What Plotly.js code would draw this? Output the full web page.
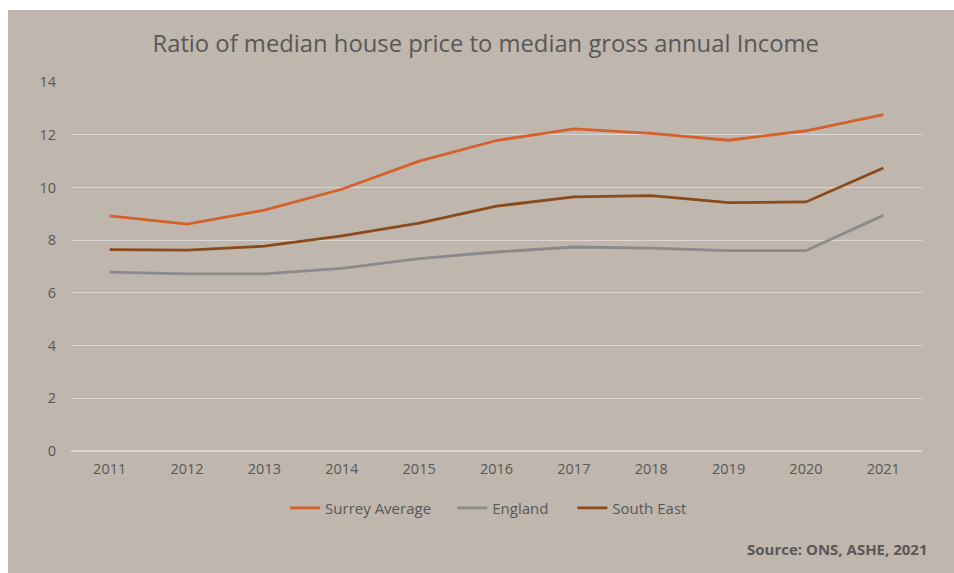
<!DOCTYPE html>
<html>
<head>
<meta charset="utf-8">
<script src="https://cdn.plot.ly/plotly-3.0.1.min.js"></script>
<style>
html,body{margin:0;padding:0;background:#ffffff;}
#chart{position:absolute;left:8px;top:10px;width:946px;height:563px;}
</style>
</head>
<body>
<div id="chart"></div>
<script>
const years = ['2011','2012','2013','2014','2015','2016','2017','2018','2019','2020','2021'];
const surreyAverage = [8.92, 8.61, 9.14, 9.93, 11.0, 11.78, 12.22, 12.05, 11.79, 12.15, 12.76];
const england = [6.79, 6.72, 6.72, 6.93, 7.30, 7.55, 7.74, 7.70, 7.60, 7.60, 8.94];
const southEast = [7.64, 7.62, 7.77, 8.16, 8.65, 9.29, 9.64, 9.69, 9.42, 9.45, 10.74];
const seriesNames = ['Surrey Average', 'England', 'South East'];
const yTicks = [0, 2, 4, 6, 8, 10, 12, 14];

const colors = ['#D4612B', '#8C8A88', '#8A4A1C'];
const legendIds = ['legend', 'legend2', 'legend3'];
const legendX = [0.2516, 0.4480, 0.5891];
const allSeries = [surreyAverage, england, southEast];
const traces = allSeries.map((vals, i) => ({
  x: years, y: vals, name: seriesNames[i], type: 'scatter', mode: 'lines',
  legend: legendIds[i],
  line: {color: colors[i], width: 2.8}
}));

const textColor = '#5A5856';
const layout = {
  width: 946, height: 563,
  paper_bgcolor: '#BFB6AD', plot_bgcolor: '#BFB6AD',
  font: {family: '"Open Sans", sans-serif', color: textColor, size: 14.5},
  margin: {l: 63, r: 32, t: 72, b: 122},
  title: {text: 'Ratio of median house price to median gross annual Income',
          font: {size: 23.8, color: textColor}, x: 0.505, xanchor: 'center', y: 0.94, yanchor: 'middle'},
  xaxis: {type: 'category', range: [-0.5, 10.5], showgrid: false, zeroline: false,
          showline: false, ticks: '', ticklabelstandoff: 7, tickfont: {size: 14.5, color: textColor}},
  yaxis: {range: [0, 14], tickvals: yTicks, showgrid: true, gridcolor: '#DCD7D2', gridwidth: 1.2,
          zeroline: true, zerolinecolor: '#DCD7D2', zerolinewidth: 1.2, showline: false, ticks: '',
          ticklabelstandoff: 14, tickfont: {size: 14.5, color: textColor}},
  annotations: [{text: '<b>Source: ONS, ASHE, 2021</b>', xref: 'paper', yref: 'paper',
                 x: 1.009, y: -0.266, xanchor: 'right', yanchor: 'middle', showarrow: false,
                 font: {size: 15, color: textColor}}],
  showlegend: true
};
legendIds.forEach((id, i) => {
  layout[id] = {orientation: 'h', x: legendX[i], xanchor: 'left', y: -0.155, yanchor: 'middle',
                font: {size: 15, color: textColor}, bgcolor: 'rgba(0,0,0,0)', borderwidth: 0};
});
Plotly.newPlot('chart', traces, layout, {displayModeBar: false, staticPlot: true});
</script>
</body>
</html>
